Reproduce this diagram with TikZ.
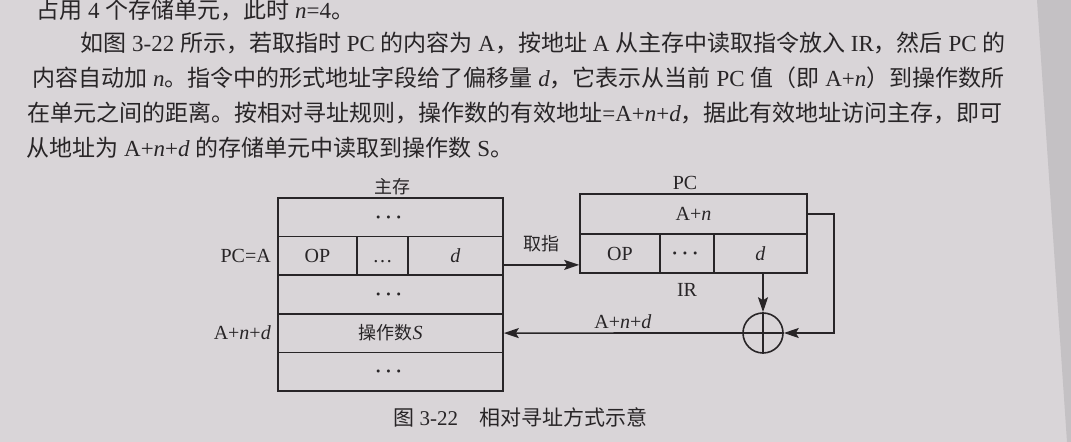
\documentclass[tikz,border=0pt]{standalone}
\usepackage{amsmath}
\usepackage{fontspec}
\setmainfont{Liberation Serif}
\newfontfamily\cjk{Noto Sans CJK SC}
\newfontfamily\cjks{Noto Sans CJK SC}[Scale=0.9]
\newcommand{\zh}[1]{{\cjk #1}}
\newcommand{\zs}[1]{{\cjks #1}}
\newcommand{\bdots}{$\boldsymbol{\cdots}$}
\usetikzlibrary{arrows.meta,positioning}
\XeTeXlinebreaklocale "zh"
\XeTeXlinebreakskip=0pt plus 2pt
\definecolor{paper}{RGB}{217,213,216}
\definecolor{pageedge}{RGB}{196,193,196}
\definecolor{ink}{RGB}{40,37,39}
\tikzset{
  cell/.style={draw=ink, line width=0.8pt, inner sep=0pt, text=ink, font=\fontsize{10}{12}\selectfont},
  txt/.style={text=ink, inner sep=0pt, font=\fontsize{10}{12}\selectfont},
  textline/.style={text=ink, inner sep=0pt, anchor=base west, align=justify, font=\fontsize{11.5}{17.5}\selectfont},
  flow/.style={draw=ink, line width=0.8pt, -{Stealth[length=7.5pt,width=5pt,inset=1.5pt]}},
}
\begin{document}
\begin{tikzpicture}[x=0.5pt, y=-0.5pt]
    \useasboundingbox (0,0) rectangle (1071,442);
    % Page
    \fill[paper] (0,0) rectangle (1071,442);
    \fill[pageedge] (1037,0) -- (1071,0) -- (1071,442) -- (1067,442) -- cycle;

    % Running text
    \node[textline] (l1) at (36,19) {\zh{占用} 4 \zh{个存储单元，此时} \textit{n}=4\zh{。}};
    \node[textline, text width=470.5pt] (l2) at (80,52) {\parfillskip=0pt \tolerance=10000 \zh{如图} 3-22 \zh{所示，若取指时} PC \zh{的内容为} A\zh{，按地址} A \zh{从主存中读取指令放入} IR\zh{，然后} PC \zh{的}};
    \node[textline, text width=494.5pt] (l3) at (32,87) {\parfillskip=0pt \tolerance=10000 \zh{内容自动加} \textit{n}\zh{。指令中的形式地址字段给了偏移量} \textit{d}\zh{，它表示从当前} PC \zh{值（即} A+\textit{n}\zh{）到操作数所}};
    \node[textline, text width=498pt] (l4) at (27,122) {\parfillskip=0pt \tolerance=10000 \zh{在单元之间的距离。按相对寻址规则，操作数的有效地址}=A+\textit{n}+\textit{d}\zh{，据此有效地址访问主存，即可}};
    \node[textline] (l5) at (26,157) {\zh{从地址为} A+\textit{n}+\textit{d} \zh{的存储单元中读取到操作数} S\zh{。}};

    % Main memory
    \node[txt] (memlbl) at (392,187) {\zs{主存}};
    \foreach \name/\y in {mtop/217.3, mmid/294.5, mbot/371.7} {
        \node[cell, minimum width=112.5pt, minimum height=19.3pt] (\name) at (390.5,\y) {\bdots};
    }
    \node[cell, minimum width=39.5pt, minimum height=19.3pt] (mop) at (317.5,255.9) {OP};
    \node[cell, minimum width=25.5pt, minimum height=19.3pt] (mdots) at (382.5,255.9) {\ldots\vphantom{OP}};
    \node[cell, minimum width=47.5pt, minimum height=19.3pt] (md) at (455.5,255.9) {\textit{d}};
    \node[cell, minimum width=112.5pt, minimum height=19.3pt] (mopnd) at (390.5,333.1) {\zs{操作数}\textit{S}};
    \node[txt, left=3pt of mop] (pcA) {PC=A};
    \node[txt, left=3pt of mopnd] (ea) {A+\textit{n}+\textit{d}};

    % PC and IR
    \node[txt] (pclbl) at (685,183) {PC};
    \node[cell, minimum width=113.5pt, minimum height=20pt] (pc) at (693.5,214) {A+\textit{n}};
    \node[cell, minimum width=40pt, minimum height=19.5pt] (irop) at (620,253.5) {OP};
    \node[cell, minimum width=27pt, minimum height=19.5pt] (irdots) at (687,253.5) {\bdots};
    \node[cell, minimum width=46.5pt, minimum height=19.5pt] (ird) at (760.5,253.5) {\textit{d}};
    \node[txt] (irlbl) at (687,290) {IR};

    % Adder
    \node[circle, draw=ink, line width=0.8pt, minimum size=20pt, inner sep=0pt] (adder) at (763,333) {};
    \draw[ink, line width=0.7pt] (adder.north) -- (adder.south) (adder.west) -- (adder.east);

    % Connections
    \coordinate (fetch) at ([yshift=-4.5pt]md.east);
    \draw[flow] (fetch) -- (fetch -| irop.west) node[txt, midway, above=6pt] {\zs{取指}};
    \draw[flow] (adder |- ird.south) -- (adder.north);
    \draw[flow] (pc.east) -- ++(13pt,0) |- (adder.east);
    \draw[flow] (adder.west) -- (mopnd.east) node[txt, midway, above=2pt] {A+\textit{n}+\textit{d}};

    % Caption
    \node[txt, anchor=base west, font=\fontsize{10.5}{12}\selectfont] (cap) at (393,426) {\zh{图} 3-22\hspace{1em}\zh{相对寻址方式示意}};
\end{tikzpicture}
\end{document}
